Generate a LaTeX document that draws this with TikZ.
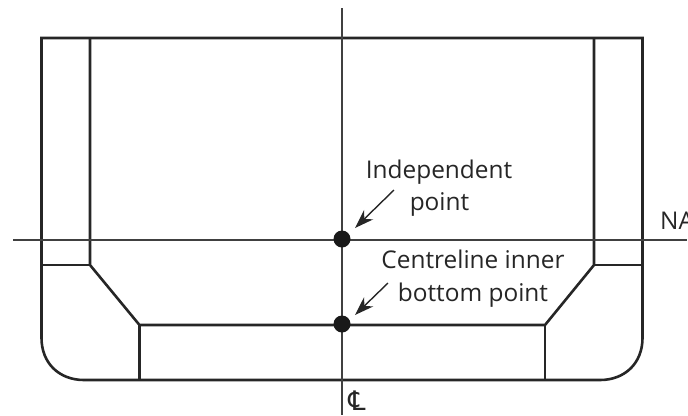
\documentclass[tikz,border=0pt]{standalone}
\usepackage{fontspec}
\setmainfont{Open Sans}
\newfontfamily\symfont{DejaVu Sans}
\usetikzlibrary{arrows.meta}
\tikzset{
  hull/.style={draw=black!85,line width=2.6bp,line join=miter},
  axis/.style={draw=black!75,line width=1.5bp},
  pointer/.style={draw=black!85,line width=1.4bp,-{Stealth[length=19bp,width=13bp,inset=6bp]}},
  dot/.style={circle,fill=black!90,minimum size=17bp,inner sep=0pt,draw=none},
  lab/.style={font=\fontsize{24.5}{29}\selectfont,text=black!85,inner sep=0pt,align=center,anchor=base}
}
\begin{document}
\begin{tikzpicture}[x=1bp,y=-1bp]
\useasboundingbox (0,0) rectangle (688,415);
% hull outline
\draw[hull] (41.5,38) -- (642.5,38) -- (642.5,338) .. controls (642.5,363) and (625,380) .. (600,380) -- (84,380) .. controls (59,380) and (41.5,363) .. (41.5,338) -- cycle;
% inner structure
\draw[hull] (90,38) -- (90,265) -- (139.5,325) -- (545,325) -- (594,265) -- (594,38);
\draw[hull] (41.5,265) -- (90,265);
\draw[hull] (594,265) -- (642.5,265);
\draw[hull] (139.5,325) -- (139.5,380);
\draw[hull] (545,325) -- (545,380);
% axes
\coordinate (cltop) at (342,8);
\coordinate (clbot) at (342,415);
\coordinate (nal) at (13,240);
\coordinate (nar) at (687,240);
\draw[axis] (cltop) -- (clbot);
\draw[axis] (nal) -- (nar);
% points
\node[dot] (ip) at (342,239) {};
\node[dot] (cp) at (342,324) {};
% labels
\node[lab] (t1) at (439,178) {Independent};
\node[lab] (t2) at (439.5,210) {point};
\node[lab] (t3) at (473,268) {Centreline inner};
\node[lab] (t4) at (473,301) {bottom point};
\node[lab,anchor=base west] (na) at (660,229) {NA};
\node[font=\symfont\fontsize{27}{32}\selectfont,text=black!85,inner sep=0pt,anchor=base] (cl) at (357,410) {℄};
% arrows
\coordinate (a1s) at (394,190);
\coordinate (a1e) at (355,228);
\coordinate (a2s) at (388,283);
\coordinate (a2e) at (355,315);
\draw[pointer] (a1s) -- (a1e);
\draw[pointer] (a2s) -- (a2e);
\end{tikzpicture}
\end{document}
